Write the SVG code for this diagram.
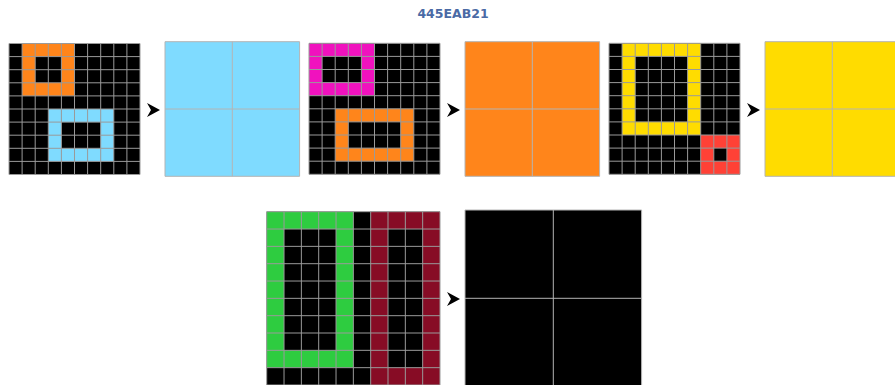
<svg xmlns="http://www.w3.org/2000/svg" xmlns:xlink="http://www.w3.org/1999/xlink" width="895" height="385" viewBox="0 0 895 385">
<style>
.k{fill:#000}
.o{fill:#FF851B}
.b{fill:#7FDBFF}
.m{fill:#F012BE}
.y{fill:#FFDC00}
.r{fill:#FF4136}
.g{fill:#2ECC40}
.w{fill:#870C25}
.gl{fill:none;stroke:#9a9a9a;stroke-width:1}
.gl2{fill:none;stroke:#b4b4b4;stroke-width:1}
.title{font-family:"DejaVu Sans",sans-serif;font-weight:bold;font-size:12.5px;fill:#4a6aa5}
</style>
<defs>
<path id="g10" class="gl" vector-effect="non-scaling-stroke" d="M0 0V10M1 0V10M2 0V10M3 0V10M4 0V10M5 0V10M6 0V10M7 0V10M8 0V10M9 0V10M10 0V10M0 0H10M0 1H10M0 2H10M0 3H10M0 4H10M0 5H10M0 6H10M0 7H10M0 8H10M0 9H10M0 10H10"/>
<path id="g2" class="gl2" vector-effect="non-scaling-stroke" d="M0 0V2M1 0V2M2 0V2M0 0H2M0 1H2M0 2H2"/>
<polygon id="arr" points="0,-7 13,0 0,7 4,0" fill="#000"/>
</defs>
<text class="title" x="453" y="18" text-anchor="middle">445EAB21</text>

<g id="in1" transform="translate(9,43.5) scale(13.1)">
<rect class="k" x="0" y="0" width="10" height="10"/>
<rect class="o" x="1" y="0" width="4" height="4"/><rect class="k" x="2" y="1" width="2" height="2"/>
<rect class="b" x="3" y="5" width="5" height="4"/><rect class="k" x="4" y="6" width="3" height="2"/>
<use xlink:href="#g10"/>
</g>
<g id="out1" transform="translate(165,41.7) scale(67.3)">
<rect class="b" x="0" y="0" width="2" height="2"/>
<use xlink:href="#g2"/>
</g>

<g id="in2" transform="translate(309,43.3) scale(13.1)">
<rect class="k" x="0" y="0" width="10" height="10"/>
<rect class="m" x="0" y="0" width="5" height="4"/><rect class="k" x="1" y="1" width="3" height="2"/>
<rect class="o" x="2" y="5" width="6" height="4"/><rect class="k" x="3" y="6" width="4" height="2"/>
<use xlink:href="#g10"/>
</g>
<g id="out2" transform="translate(465,41.7) scale(67.3)">
<rect class="o" x="0" y="0" width="2" height="2"/>
<use xlink:href="#g2"/>
</g>

<g id="in3" transform="translate(609,43.3) scale(13.1)">
<rect class="k" x="0" y="0" width="10" height="10"/>
<rect class="y" x="1" y="0" width="6" height="7"/><rect class="k" x="2" y="1" width="4" height="5"/>
<rect class="r" x="7" y="7" width="3" height="3"/><rect class="k" x="8" y="8" width="1" height="1"/>
<use xlink:href="#g10"/>
</g>
<g id="out3" transform="translate(765,41.7) scale(67.3)">
<rect class="y" x="0" y="0" width="2" height="2"/>
<use xlink:href="#g2"/>
</g>

<g id="in4" transform="translate(266.7,211.7) scale(17.33)">
<rect class="k" x="0" y="0" width="10" height="10"/>
<rect class="g" x="0" y="0" width="5" height="9"/><rect class="k" x="1" y="1" width="3" height="7"/>
<rect class="w" x="6" y="0" width="4" height="10"/><rect class="k" x="7" y="1" width="2" height="8"/>
<use xlink:href="#g10"/>
</g>
<g id="out4" transform="translate(465,210) scale(88.3)">
<rect class="k" x="0" y="0" width="2" height="2"/>
<use xlink:href="#g2"/>
</g>

<g id="connectors">
<use xlink:href="#arr" x="147" y="110"/>
<use xlink:href="#arr" x="447" y="110"/>
<use xlink:href="#arr" x="747" y="110"/>
<use xlink:href="#arr" x="447" y="299"/>
</g>
</svg>
